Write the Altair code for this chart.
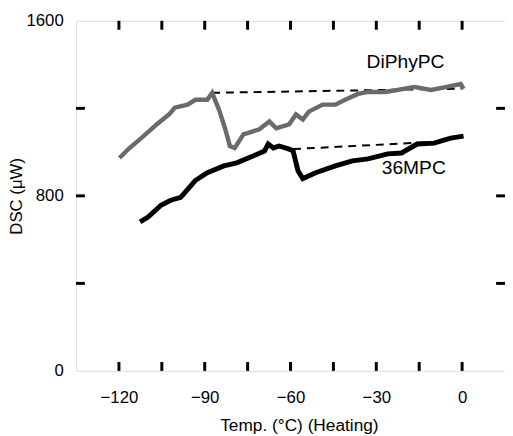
import altair as alt
import pandas as pd

# DiPhyPC trace (grey)
diphy_T = [-119.8, -116.7, -112.2, -106.4, -102.2, -100.5, -96.0, -93.3, -89.1, -87.4,
           -85.0, -82.9, -81.2, -79.5, -76.4, -75.3, -70.9, -67.4, -65.0, -60.5,
           -58.1, -55.7, -53.6, -48.8, -44.3, -40.9, -36.4, -32.9, -27.1, -22.6,
           -16.7, -10.9, -5.3, -0.5, 0.5]
diphy_D = [973, 1014, 1064, 1131, 1176, 1203, 1217, 1239, 1239, 1271,
           1194, 1109, 1028, 1019, 1082, 1086, 1104, 1140, 1109, 1127,
           1172, 1149, 1185, 1217, 1217, 1239, 1266, 1275, 1275, 1284,
           1298, 1284, 1298, 1311, 1289]

# 36MPC trace (black)
mpc_T = [-112.6, -109.8, -105.3, -101.9, -98.4, -93.3, -89.1, -83.3, -78.8, -72.9,
         -69.1, -67.8, -66.0, -64.0, -60.5, -59.1, -57.4, -55.7, -51.2, -44.3,
         -38.4, -32.9, -26.0, -21.2, -15.7, -9.8, -4.0, 0.5]
mpc_D = [681, 703, 757, 780, 793, 870, 906, 937, 951, 983,
         1005, 1037, 1019, 1028, 1014, 1005, 915, 879, 906, 937,
         960, 969, 992, 996, 1037, 1041, 1064, 1073]

# dashed baselines
diphy_base_T = [-87.4, 0.0]
diphy_base_D = [1271, 1290]
mpc_base_T = [-59.1, -12.0]
mpc_base_D = [1014, 1045]

# labels
label_text = ["DiPhyPC", "36MPC"]
label_T = [-19.8, -16.9]
label_D = [1411, 926]

x_ticks = [-120, -105, -90, -75, -60, -45, -30, -15, 0]
x_labels = [-120, -90, -60, -30, 0]
y_ticks = [400, 800, 1200]
y_labels = [0, 800, 1600]

FONT = "Liberation Sans"
W, H = 435, 355

xs = alt.Scale(domain=[-135, 15], nice=False, zero=False)
ys = alt.Scale(domain=[0, 1600], nice=False, zero=False)
xaxis = alt.Axis(values=x_labels, tickSize=0, domain=False, grid=False, format="d",
                 labelPadding=19, labelFontSize=17, labelFont=FONT,
                 title="Temp. (°C) (Heating)", titleFontSize=17.5, titleFont=FONT,
                 titleFontWeight="normal", titlePadding=11, titleX=226)
yaxis = alt.Axis(values=y_labels, tickSize=0, domain=False, grid=False, format="d",
                 labelPadding=13, labelFontSize=17, labelFont=FONT,
                 title="DSC (μW)", titleFontSize=17, titleFont=FONT,
                 titleFontWeight="normal", titlePadding=0)

def X(f):
    return alt.X(f, type="quantitative", scale=xs, axis=xaxis)

def Y(f):
    return alt.Y(f, type="quantitative", scale=ys, axis=yaxis)

d_diphy = pd.DataFrame({"T": diphy_T, "D": diphy_D, "i": range(len(diphy_T))})
d_mpc = pd.DataFrame({"T": mpc_T, "D": mpc_D, "i": range(len(mpc_T))})
d_b1 = pd.DataFrame({"T": diphy_base_T, "D": diphy_base_D})
d_b2 = pd.DataFrame({"T": mpc_base_T, "D": mpc_base_D})
d_lab = pd.DataFrame({"T": label_T, "D": label_D, "s": label_text})
d_xt = pd.DataFrame({"T": x_ticks})
d_yt = pd.DataFrame({"D": y_ticks})

base1 = alt.Chart(d_b1).mark_line(color="black", strokeWidth=2, strokeDash=[8, 6]).encode(
    x=X("T"), y=Y("D"))
base2 = alt.Chart(d_b2).mark_line(color="black", strokeWidth=2, strokeDash=[8, 6]).encode(
    x=X("T"), y=Y("D"))
line1 = alt.Chart(d_diphy).mark_line(color="#6a6a6a", strokeWidth=4.5, strokeJoin="miter").encode(
    x=X("T"), y=Y("D"), order="i:O")
line2 = alt.Chart(d_mpc).mark_line(color="black", strokeWidth=5, strokeJoin="miter").encode(
    x=X("T"), y=Y("D"), order="i:O")
labels = alt.Chart(d_lab).mark_text(font=FONT, fontSize=19.5, color="black").encode(
    x=X("T"), y=Y("D"), text="s:N")

xt_bot = alt.Chart(d_xt).mark_rule(color="black", strokeWidth=3).encode(
    x=X("T"), y=alt.value(H - 9), y2=alt.value(H))
xt_top = alt.Chart(d_xt).mark_rule(color="black", strokeWidth=3).encode(
    x=X("T"), y=alt.value(0), y2=alt.value(9))
yt_left = alt.Chart(d_yt).mark_rule(color="black", strokeWidth=3).encode(
    y=Y("D"), x=alt.value(0), x2=alt.value(9))
yt_right = alt.Chart(d_yt).mark_rule(color="black", strokeWidth=3).encode(
    y=Y("D"), x=alt.value(W - 9), x2=alt.value(W))

chart = alt.layer(base1, base2, line1, line2, labels, xt_bot, xt_top, yt_left, yt_right).properties(
    width=W, height=H,
    autosize=alt.AutoSizeParams(type="none"),
    padding={"left": 69, "top": 10, "right": 0, "bottom": 63},
).configure_view(stroke="black", strokeWidth=3).configure(background="white")

chart.save("out.html", embed_options={"renderer": "svg", "actions": False})
